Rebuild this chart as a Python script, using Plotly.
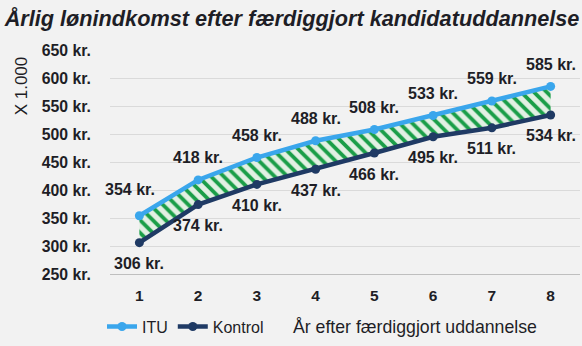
import plotly.graph_objects as go

years = [1, 2, 3, 4, 5, 6, 7, 8]
itu = [354, 418, 458, 488, 508, 533, 559, 585]
kontrol = [306, 374, 410, 437, 466, 495, 511, 534]
y_ticks = [250, 300, 350, 400, 450, 500, 550, 600, 650]
y_tick_labels = [f"{v} kr." for v in y_ticks]

C_ITU = "#3aa6ec"
C_KON = "#1f3a64"
TXT = "#1e1e26"
FONT = "Liberation Sans, Arial, sans-serif"

fig = go.Figure()
fig.add_trace(go.Scatter(
    x=years, y=kontrol, name="Kontrol", mode="lines",
    line=dict(color=C_KON, width=0),
    showlegend=False, hoverinfo="skip"))
fig.add_trace(go.Scatter(
    x=years, y=itu, name="ITU", mode="lines", fill="tonexty",
    line=dict(color=C_ITU, width=0),
    fillcolor="rgba(0,0,0,0)",
    fillpattern=dict(shape="\\", fgcolor="#1a9e48", bgcolor="#e2f0e3",
                     fgopacity=1, size=9, solidity=0.42),
    showlegend=False, hoverinfo="skip"))
fig.add_trace(go.Scatter(
    x=years, y=itu, name="ITU", mode="lines+markers", legendrank=1,
    line=dict(color=C_ITU, width=4.5), marker=dict(size=9, color=C_ITU)))
fig.add_trace(go.Scatter(
    x=years, y=kontrol, name="Kontrol", mode="lines+markers", legendrank=2,
    line=dict(color=C_KON, width=4.5), marker=dict(size=9, color=C_KON)))

for i, (x, v) in enumerate(zip(years, itu)):
    fig.add_annotation(x=x, y=v, text=f"{v} kr.", showarrow=False,
                       yshift=22 if i else 26, xshift=0 if i else -9,
                       font=dict(family=FONT, size=16, color=TXT, weight="bold"))
for x, v in zip(years, kontrol):
    fig.add_annotation(x=x, y=v, text=f"{v} kr.", showarrow=False,
                       yshift=-21,
                       font=dict(family=FONT, size=16, color=TXT, weight="bold"))

fig.add_annotation(xref="paper", yref="paper", x=(21.5 - 110) / 470, y=0.84,
                   text="X 1.000", textangle=-90, showarrow=False,
                   xanchor="center", yanchor="middle",
                   font=dict(family=FONT, size=17, color=TXT))
fig.add_annotation(xref="paper", yref="paper", x=(291 - 110) / 470, y=-0.235,
                   text="År efter færdiggjort uddannelse", showarrow=False,
                   xanchor="left", yanchor="middle",
                   font=dict(family=FONT, size=17.7, color=TXT))

fig.update_layout(
    width=582, height=346,
    margin=dict(l=110, r=2, t=50, b=72),
    paper_bgcolor="#f2f2f2", plot_bgcolor="#f2f2f2",
    title=dict(text="<b><i>Årlig lønindkomst efter færdiggjort kandidatuddannelse</i></b>",
               x=0.008, xanchor="left", y=0.947, yanchor="middle",
               font=dict(family=FONT, size=21.7, color=TXT)),
    legend=dict(orientation="h", x=(102 - 110) / 470, xanchor="left",
                y=-0.235, yanchor="middle", traceorder="normal",
                font=dict(family=FONT, size=16, color=TXT),
                itemwidth=30, tracegroupgap=0, bgcolor="rgba(0,0,0,0)"),
    xaxis=dict(range=[0.5, 8.5], tickvals=years, ticktext=[str(v) for v in years],
               showgrid=False, showline=True, linecolor="#bfbfbf", linewidth=1,
               ticks="", ticklabelstandoff=7, zeroline=False,
               tickfont=dict(family=FONT, size=15.5, color=TXT, weight="bold")),
    yaxis=dict(range=[250, 650], tickvals=y_ticks, ticktext=y_tick_labels,
               showgrid=True, gridcolor="#dadada", gridwidth=1, zeroline=False,
               ticks="", ticklabelstandoff=18,
               tickfont=dict(family=FONT, size=15.8, color=TXT, weight="bold")),
)

fig.write_html("out.html")
